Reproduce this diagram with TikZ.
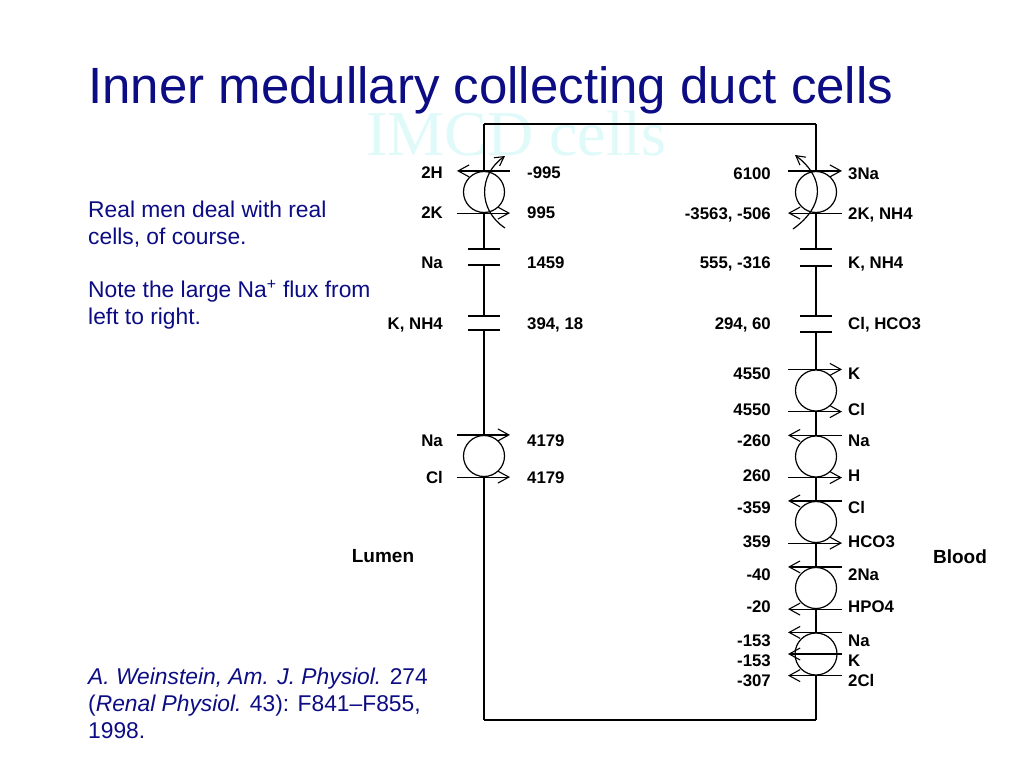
\documentclass[tikz,border=0pt]{standalone}
\usepackage{fontspec}
\setmainfont{Liberation Sans}
\newfontfamily\seriffam{Liberation Serif}
\usetikzlibrary{arrows.meta,calc}
\definecolor{navy}{RGB}{12,12,132}
\definecolor{faintcyan}{RGB}{224,250,250}
\begin{document}
\begin{tikzpicture}[x=1pt,y=-1pt,
  mem/.style={line width=1.6pt},
  chbar/.style={line width=1.4pt},
  carrier/.style={circle,draw,line width=1.2pt,minimum size=41pt,inner sep=0pt},
  flux/.style={line width=1.2pt,-{Straight Barb[length=11pt,width=12pt,line width=1.1pt]}},
  curv/.style={line width=1.2pt,-{Straight Barb[length=9pt,width=10pt,line width=1.1pt]}},
  lab/.style={font=\fontsize{16.8}{18}\selectfont\bfseries,inner sep=0pt},
  lname/.style={lab,anchor=base east},
  lnum/.style={lab,anchor=base west},
  side/.style={font=\fontsize{19}{22}\selectfont\bfseries,inner sep=0pt},
  body/.style={font=\fontsize{22.8}{27}\selectfont,text=navy,inner sep=0pt,anchor=base west,align=left}
]
\fill[white] (0,0) rectangle (1024,768);
\useasboundingbox (0,0) rectangle (1024,768);

% faint background label and title
\node[anchor=base west,font=\seriffam\fontsize{64}{70}\selectfont,text=faintcyan,inner sep=0pt,text depth=0pt] (imcd) at (366,155) {IMCD cells};
\node[anchor=base west,font=\fontsize{51}{60}\selectfont,text=navy,inner sep=0pt] (title) at (88,103) {Inner medullary collecting duct cells};

% side text
\node[body] (t1) at (88,217) {Real men deal with real};
\node[body] (t2) at (88,244) {cells, of course.};
\node[body] (t3) at (88,297) {Note the large Na\textsuperscript{+} flux from};
\node[body] (t4) at (88,324) {left to right.};
\node[body] (c1) at (88,684) {\itshape A. Weinstein, Am. J. Physiol.\upshape{} 274};
\node[body] (c2) at (88,711) {(\textit{Renal Physiol.} 43): F841–F855,};
\node[body] (c3) at (88,738) {1998.};

% cell frame corners
\coordinate (tl) at (484,124);
\coordinate (tr) at (816,124);
\coordinate (bl) at (484,720);
\coordinate (br) at (816,720);

% carriers
\node[carrier] (lp) at (484,192) {};
\node[carrier] (lc) at (484,456) {};
\node[carrier] (rp) at (816,192) {};
\node[carrier] (r1) at (816,390.5) {};
\node[carrier] (r2) at (816,456.5) {};
\node[carrier] (r3) at (816,522) {};
\node[carrier] (r4) at (816,588) {};
\node[carrier,minimum size=42pt] (r5) at (816,654) {};

% frame lines and membranes
\draw[mem] (tl) -- (tr);
\draw[mem] (bl) -- (br);
\draw[mem] (tl) -- (lp.north);
\draw[mem] (lp.south) -- (484,249);
\draw[mem] (484,265) -- (484,316);
\draw[mem] (484,330) -- (lc.north);
\draw[mem] (lc.south) -- (bl);
\draw[mem] (tr) -- (rp.north);
\draw[mem] (rp.south) -- (816,249);
\draw[mem] (816,266) -- (816,316);
\draw[mem] (816,332) -- (r1.north);
\draw[mem] (r1.south) -- (r2.north);
\draw[mem] (r2.south) -- (r3.north);
\draw[mem] (r3.south) -- (r4.north);
\draw[mem] (r4.south) -- (r5.north);
\draw[mem] (r5.south) -- (br);

% channels
\draw[chbar] (468,249) -- (500,249);
\draw[chbar] (468,265) -- (500,265);
\draw[chbar] (468,316) -- (500,316);
\draw[chbar] (468,330) -- (500,330);
\draw[chbar] (800,249) -- (832,249);
\draw[chbar] (800,266) -- (832,266);
\draw[chbar] (800,316) -- (832,316);
\draw[chbar] (800,332) -- (832,332);

% left fluxes
\draw[flux] ($(lp.north)+(26,0)$) -- ($(lp.north)+(-27,0)$);
\draw[flux] ($(lp.south)+(-27,0)$) -- ($(lp.south)+(26,0)$);
\draw[curv] ($(lp)+(21,36)$) .. controls ($(lp)+(-6,18)$) and ($(lp)+(-6,-17)$) .. ($(lp)+(21,-36)$);
\draw[flux] ($(lc.north)+(-27,0)$) -- ($(lc.north)+(26,0)$);
\draw[flux] ($(lc.south)+(-27,0)$) -- ($(lc.south)+(26,0)$);

% right fluxes
\draw[flux] ($(rp.north)+(-28,0)$) -- ($(rp.north)+(26,0)$);
\draw[flux] ($(rp.south)+(26,0)$) -- ($(rp.south)+(-28,0)$);
\draw[curv] ($(rp)+(-23,37)$) .. controls ($(rp)+(9,14)$) and ($(rp)+(9,-14)$) .. ($(rp)+(-21,-37)$);
\draw[flux] ($(r1.north)+(-28,0)$) -- ($(r1.north)+(26,0)$);
\draw[flux] ($(r1.south)+(-28,0)$) -- ($(r1.south)+(26,0)$);
\draw[flux] ($(r2.north)+(26,0)$) -- ($(r2.north)+(-28,0)$);
\draw[flux] ($(r2.south)+(-28,0)$) -- ($(r2.south)+(26,0)$);
\draw[flux] ($(r3.north)+(26,0)$) -- ($(r3.north)+(-28,0)$);
\draw[flux] ($(r3.south)+(-28,0)$) -- ($(r3.south)+(26,0)$);
\draw[flux] ($(r4.north)+(26,0)$) -- ($(r4.north)+(-28,0)$);
\draw[flux] ($(r4.south)+(26,0)$) -- ($(r4.south)+(-28,0)$);
\draw[flux] ($(r5.north)+(26,0)$) -- ($(r5.north)+(-28,0)$);
\draw[flux] ($(r5.center)+(26,0)$) -- ($(r5.center)+(-28,0)$);
\draw[flux] ($(r5.south)+(26,0)$) -- ($(r5.south)+(-28,0)$);

% left labels
\node[lname] (a1) at (443,178) {2H};
\node[lname] (a2) at (443,218) {2K};
\node[lname] (a3) at (443,268) {Na};
\node[lname] (a4) at (443,329) {K, NH4};
\node[lname] (a5) at (443,446) {Na};
\node[lname] (a6) at (443,483) {Cl};
\node[lnum] (b1) at (527,178) {-995};
\node[lnum] (b2) at (527,218) {995};
\node[lnum] (b3) at (527,268) {1459};
\node[lnum] (b4) at (527,329) {394, 18};
\node[lnum] (b5) at (527,446) {4179};
\node[lnum] (b6) at (527,483) {4179};

% right labels
\node[lname] (n1) at (771,179) {6100};
\node[lname] (n2) at (771,219) {-3563, -506};
\node[lname] (n3) at (771,268) {555, -316};
\node[lname] (n4) at (771,329) {294, 60};
\node[lname] (n5) at (771,379) {4550};
\node[lname] (n6) at (771,415) {4550};
\node[lname] (n7) at (771,446) {-260};
\node[lname] (n8) at (771,481) {260};
\node[lname] (n9) at (771,513) {-359};
\node[lname] (n10) at (771,547) {359};
\node[lname] (n11) at (771,580) {-40};
\node[lname] (n12) at (771,612) {-20};
\node[lname] (n13) at (771,646) {-153};
\node[lname] (n14) at (771,666) {-153};
\node[lname] (n15) at (771,686) {-307};
\node[lnum] (i1) at (848,179) {3Na};
\node[lnum] (i2) at (848,219) {2K, NH4};
\node[lnum] (i3) at (848,268) {K, NH4};
\node[lnum] (i4) at (848,329) {Cl, HCO3};
\node[lnum] (i5) at (848,379) {K};
\node[lnum] (i6) at (848,415) {Cl};
\node[lnum] (i7) at (848,446) {Na};
\node[lnum] (i8) at (848,481) {H};
\node[lnum] (i9) at (848,513) {Cl};
\node[lnum] (i10) at (848,547) {HCO3};
\node[lnum] (i11) at (848,580) {2Na};
\node[lnum] (i12) at (848,612) {HPO4};
\node[lnum] (i13) at (848,646) {Na};
\node[lnum] (i14) at (848,666) {K};
\node[lnum] (i15) at (848,686) {2Cl};

% compartments
\node[side] (lumen) at (383,556) {Lumen};
\node[side] (blood) at (960,557) {Blood};
\end{tikzpicture}
\end{document}
